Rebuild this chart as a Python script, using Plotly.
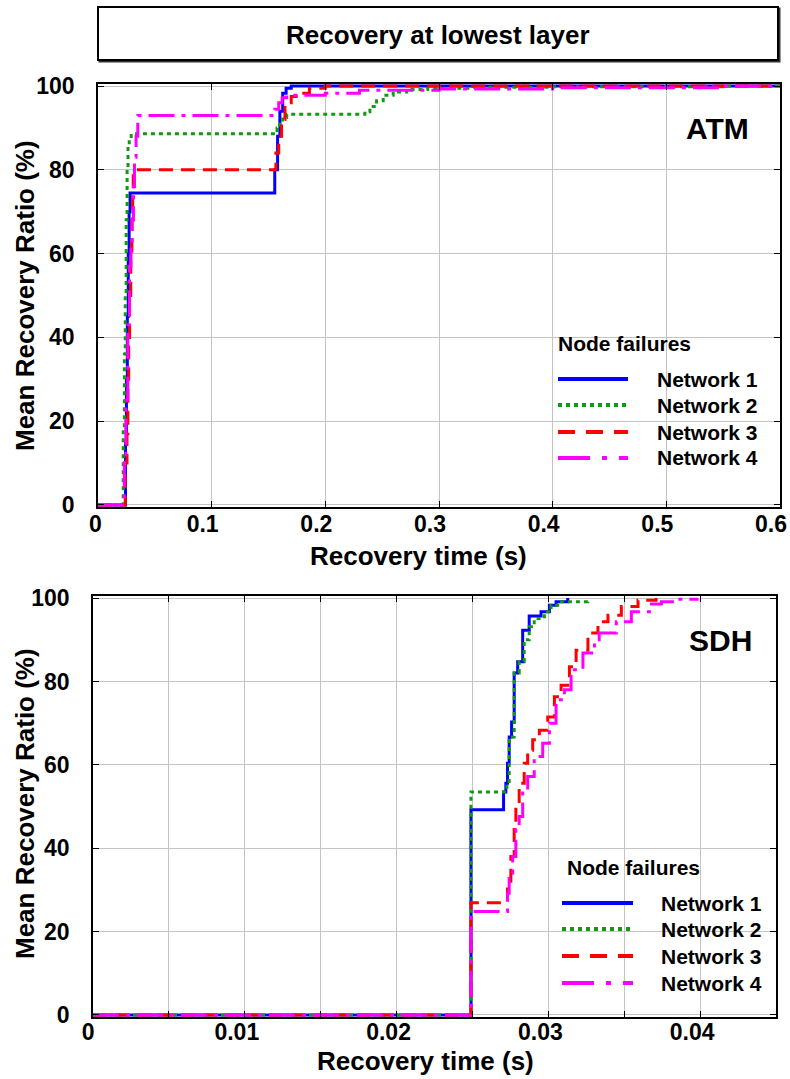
import plotly.graph_objects as go

# ---------------- data ----------------
series_names = ["Network 1", "Network 2", "Network 3", "Network 4"]

# ATM layer: recovery time (s) vs mean recovery ratio (%)
atm_t1 = [0, 0.0242, 0.0250, 0.0258, 0.0266, 0.0274, 0.0282, 0.1555, 0.1580, 0.1600, 0.1625, 0.1655, 0.1700, 0.6]
atm_r1 = [0, 15, 30, 45, 60, 70, 74.5, 80, 88, 94, 98.3, 99.5, 100, 100]

atm_t2 = [0, 0.0222, 0.0232, 0.0240, 0.0248, 0.0256, 0.0264, 0.0275, 0.0292, 0.1575, 0.1600, 0.1625, 0.1660,
          0.2348, 0.2392, 0.2451, 0.2509, 0.2597, 0.2715, 0.2900, 0.3300, 0.4000, 0.5500, 0.6]
atm_r2 = [0, 18, 36, 50, 68, 80, 85.5, 87.5, 88.6, 90, 91.5, 92.5, 93.3,
          93.9, 95.1, 96.5, 97.8, 98.6, 99.2, 99.5, 99.7, 99.85, 100, 100]

atm_t3 = [0, 0.0240, 0.0255, 0.0263, 0.0270, 0.0278, 0.0288, 0.0298, 0.0305, 0.0310,
          0.1565, 0.1590, 0.1615, 0.1645, 0.1700, 0.1780, 0.1860, 0.2000, 0.6]
atm_r3 = [0, 10, 17, 30, 40, 50, 60, 68, 75, 80,
          84, 88, 92, 96, 97.5, 98.3, 99.5, 100, 100]

atm_t4 = [0, 0.0232, 0.0245, 0.0262, 0.0277, 0.0290, 0.0301, 0.0312, 0.0321, 0.0335, 0.0350,
          0.1555, 0.1590, 0.1620, 0.1660, 0.2000, 0.2300, 0.3000, 0.4000, 0.5500, 0.6]
atm_r4 = [0, 12, 25, 43, 57, 63, 68, 76, 83, 88, 93,
          94.5, 96, 97.2, 97.8, 98.3, 99, 99.3, 99.6, 100, 100]

# SDH layer
sdh_t1 = [0, 0.0249, 0.02705, 0.0272, 0.02731, 0.02742, 0.02758, 0.02775, 0.02798, 0.02831,
          0.02874, 0.02952, 0.03007, 0.03051, 0.03128]
sdh_r1 = [0, 49.2, 53.5, 55.6, 60.4, 66.7, 70.3, 82, 84.7, 92.3,
          95.7, 96.7, 98.3, 99.1, 100]

sdh_t2 = [0, 0.0249, 0.02727, 0.02742, 0.02775, 0.02808, 0.02841, 0.02874, 0.02907,
          0.02974, 0.03018, 0.03062, 0.0326]
sdh_r2 = [0, 53.5, 56, 66.7, 82, 84.7, 90, 93.1, 95.1,
          96.7, 98.3, 99.1, 100]

sdh_t3 = [0, 0.0249, 0.02731, 0.02753, 0.02775, 0.02786, 0.02808, 0.02841, 0.02864, 0.02897,
          0.02941, 0.02996, 0.0304, 0.03084, 0.03139, 0.03183, 0.03261, 0.03327, 0.03393,
          0.03481, 0.03591, 0.0371]
sdh_r3 = [0, 26.9, 30.8, 38, 46, 50.8, 55.6, 60.4, 63.5, 66,
          68.3, 71.5, 76.3, 79.1, 83.5, 87.5, 91.6, 94.3, 95.9,
          98, 99.5, 100]

sdh_t4 = [0, 0.0249, 0.02731, 0.02742, 0.02765, 0.02786, 0.02808, 0.02831, 0.02864, 0.02907,
          0.02963, 0.03007, 0.03051, 0.03106, 0.0315, 0.03228, 0.03304, 0.03335, 0.03448,
          0.03547, 0.03666, 0.03745, 0.03831, 0.0398]
sdh_r4 = [0, 24.8, 29.2, 34, 38, 44.4, 47.6, 54, 57.2, 62,
          65.2, 70, 75.6, 78, 82.8, 86.8, 90, 91.6, 94.3,
          96.7, 98.6, 99.1, 99.7, 100]

x_ticks_atm = [0, 0.1, 0.2, 0.3, 0.4, 0.5, 0.6]
x_ticks_sdh = [0, 0.01, 0.02, 0.03, 0.04]
y_ticks = [0, 20, 40, 60, 80, 100]

# ---------------- styling ----------------
W, H = 790, 1079
FONT = "Liberation Sans, Arial, Helvetica, sans-serif"
colors = ["#0000ff", "#109a10", "#ff0000", "#ff00ff"]
plot_dash = ["solid", "4px,4px", "14px,8px", "26px,7px,4px,7px"]
legend_dash = ["solid", "4px,4px", "17px,11px", "32px,12px,5px,12px"]
NBSP = "\u00a0"


def px_x(p):
    return p / W


def px_y(p):
    return 1 - p / H


def tick_text(vals, zero_pad):
    # the zero label sits a little right of its tick
    return [(NBSP * zero_pad + "0") if v == 0 else f"{v:g}" for v in vals]


fig = go.Figure()

atm = [(atm_t1, atm_r1), (atm_t2, atm_r2), (atm_t3, atm_r3), (atm_t4, atm_r4)]
sdh = [(sdh_t1, sdh_r1), (sdh_t2, sdh_r2), (sdh_t3, sdh_r3), (sdh_t4, sdh_r4)]

for (t, r), name, c, d in zip(atm, series_names, colors, plot_dash):
    fig.add_trace(go.Scatter(x=t, y=r, name=name, mode="lines", xaxis="x", yaxis="y",
                             line=dict(color=c, width=3, dash=d, shape="hv"), showlegend=False))
for (t, r), name, c, d in zip(sdh, series_names, colors, plot_dash):
    fig.add_trace(go.Scatter(x=t, y=r, name=name, mode="lines", xaxis="x2", yaxis="y2",
                             line=dict(color=c, width=3, dash=d, shape="hv"), showlegend=False))

tickfont = dict(family=FONT, size=23, color="black", weight="bold")
common = dict(showgrid=True, gridcolor="#c4c4c4", gridwidth=1, showline=True, linecolor="black",
              linewidth=1.6, mirror="ticks", ticks="inside", ticklen=6, tickcolor="black",
              tickwidth=1, zeroline=False, tickfont=tickfont, automargin=False)

fig.update_layout(
    width=W, height=H, margin=dict(l=0, r=0, t=0, b=0, autoexpand=False),
    paper_bgcolor="white", plot_bgcolor="white",
    xaxis=dict(domain=[px_x(98), px_x(780)], anchor="y", range=[0, 0.6],
               tickvals=x_ticks_atm, ticktext=tick_text(x_ticks_atm, 2),
               ticklabelshift=-9, ticklabelstandoff=-4, **common),
    yaxis=dict(domain=[px_y(507), px_y(84)], anchor="x", range=[-0.5, 100.5],
               tickvals=y_ticks, ticklabelstandoff=17, **common),
    xaxis2=dict(domain=[px_x(93), px_x(776)], anchor="y2", range=[0, 0.045],
                tickvals=x_ticks_sdh, ticktext=tick_text(x_ticks_sdh, 1),
                minor=dict(dtick=0.005, tick0=0, showgrid=True, gridcolor="#c4c4c4",
                           ticks="inside", ticklen=6, tickcolor="black"),
                ticklabelshift=-8, ticklabelstandoff=-6, **common),
    yaxis2=dict(domain=[px_y(1017), px_y(596)], anchor="x2", range=[-0.5, 100.5],
                tickvals=y_ticks, ticklabelstandoff=17, **common),
)

shapes = []
annotations = []

# title box with a slight drop edge
shapes.append(dict(type="rect", xref="paper", yref="paper",
                   x0=px_x(99.5), x1=px_x(779.5), y0=px_y(61.5), y1=px_y(8.5),
                   line=dict(color="#333333", width=2), fillcolor="white", layer="above"))
shapes.append(dict(type="rect", xref="paper", yref="paper",
                   x0=px_x(98), x1=px_x(778), y0=px_y(60), y1=px_y(7),
                   line=dict(color="black", width=2), fillcolor="white", layer="above"))
annotations.append(dict(text="Recovery at lowest layer", xref="paper", yref="paper",
                        x=px_x(438), y=px_y(35), xanchor="center", yanchor="middle", showarrow=False,
                        font=dict(family=FONT, size=26, color="black", weight="bold")))

# panel labels
annotations.append(dict(text="ATM", xref="paper", yref="paper", x=px_x(717), y=px_y(128),
                        xanchor="center", yanchor="middle", showarrow=False,
                        font=dict(family=FONT, size=30, color="black", weight="bold")))
annotations.append(dict(text="SDH", xref="paper", yref="paper", x=px_x(720), y=px_y(640),
                        xanchor="center", yanchor="middle", showarrow=False,
                        font=dict(family=FONT, size=30, color="black", weight="bold")))

# axis titles
title_font = dict(family=FONT, size=26, color="black", weight="bold")
for xc, yc in [(418, 556), (425, 1061)]:
    annotations.append(dict(text="Recovery time (s)", xref="paper", yref="paper", x=px_x(xc), y=px_y(yc),
                            xanchor="center", yanchor="middle", showarrow=False, font=title_font))
for yc in [296, 804]:
    annotations.append(dict(text="Mean Recovery Ratio (%)", xref="paper", yref="paper", x=px_x(25),
                            y=px_y(yc), xanchor="center", yanchor="middle", showarrow=False,
                            textangle=-90, font=title_font))

# legends
legend_font = dict(family=FONT, size=21, color="black", weight="bold")
legends = [
    dict(head=(556, 343), line_x=(558, 628), text_x=655, rows=[379, 405, 432, 458]),
    dict(head=(565, 867), line_x=(562, 633), text_x=659, rows=[903, 929, 956, 983]),
]
for lg in legends:
    annotations.append(dict(text="Node failures", xref="paper", yref="paper",
                            x=px_x(lg["head"][0]), y=px_y(lg["head"][1]), xanchor="left", yanchor="middle",
                            showarrow=False, font=legend_font))
    for name, c, d, ry in zip(series_names, colors, legend_dash, lg["rows"]):
        shapes.append(dict(type="line", xref="paper", yref="paper",
                           x0=px_x(lg["line_x"][0]), x1=px_x(lg["line_x"][1]), y0=px_y(ry), y1=px_y(ry),
                           line=dict(color=c, width=4, dash=d)))
        annotations.append(dict(text=name, xref="paper", yref="paper", x=px_x(lg["text_x"]), y=px_y(ry),
                                xanchor="left", yanchor="middle", showarrow=False, font=legend_font))

fig.update_layout(shapes=shapes, annotations=annotations)
fig.write_html("out.html")
